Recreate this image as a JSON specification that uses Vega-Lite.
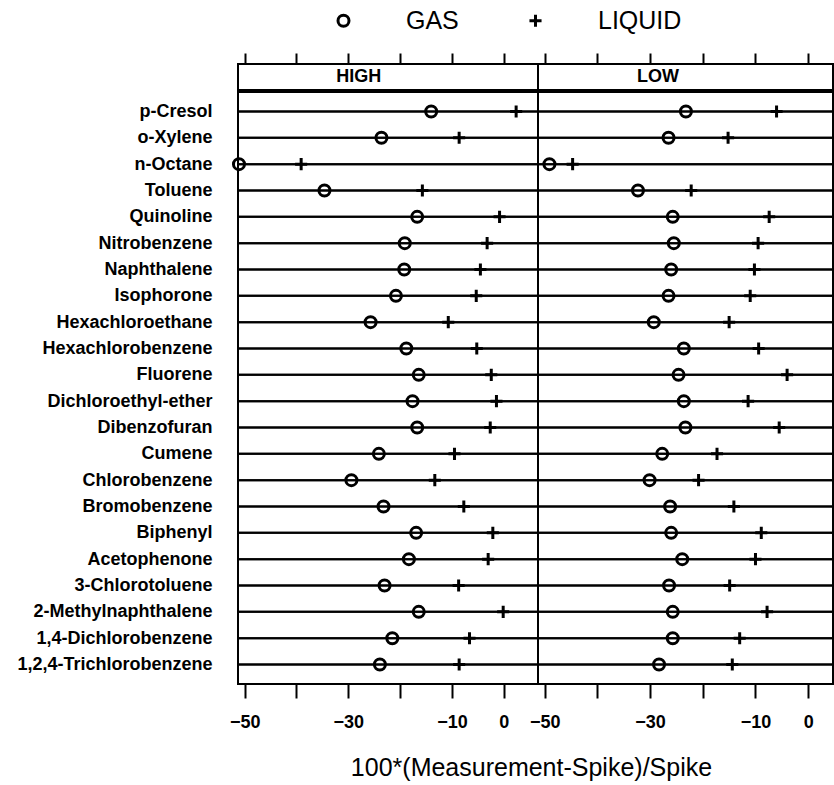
{
  "$schema": "https://vega.github.io/schema/vega-lite/v6.json",
  "autosize": {"type": "pad"},
  "padding": {"left": 15, "top": 8, "right": 0, "bottom": 0},
  "background": "white",
  "config": {
    "font": "Liberation Sans",
    "view": {"stroke": "black", "strokeWidth": 2},
    "concat": {"spacing": 0}
  },
  "data": {
    "values": [
      {"compound": "p-Cresol", "level": "HIGH", "GAS": -14.0, "LIQUID": 2.4},
      {"compound": "o-Xylene", "level": "HIGH", "GAS": -23.6, "LIQUID": -8.6},
      {"compound": "n-Octane", "level": "HIGH", "GAS": -51.1, "LIQUID": -39.1},
      {"compound": "Toluene", "level": "HIGH", "GAS": -34.6, "LIQUID": -15.7},
      {"compound": "Quinoline", "level": "HIGH", "GAS": -16.7, "LIQUID": -0.8},
      {"compound": "Nitrobenzene", "level": "HIGH", "GAS": -19.1, "LIQUID": -3.2},
      {"compound": "Naphthalene", "level": "HIGH", "GAS": -19.2, "LIQUID": -4.5},
      {"compound": "Isophorone", "level": "HIGH", "GAS": -20.8, "LIQUID": -5.3},
      {"compound": "Hexachloroethane", "level": "HIGH", "GAS": -25.7, "LIQUID": -10.7},
      {"compound": "Hexachlorobenzene", "level": "HIGH", "GAS": -18.8, "LIQUID": -5.2},
      {"compound": "Fluorene", "level": "HIGH", "GAS": -16.4, "LIQUID": -2.4},
      {"compound": "Dichloroethyl-ether", "level": "HIGH", "GAS": -17.6, "LIQUID": -1.4},
      {"compound": "Dibenzofuran", "level": "HIGH", "GAS": -16.7, "LIQUID": -2.6},
      {"compound": "Cumene", "level": "HIGH", "GAS": -24.1, "LIQUID": -9.5},
      {"compound": "Chlorobenzene", "level": "HIGH", "GAS": -29.4, "LIQUID": -13.3},
      {"compound": "Bromobenzene", "level": "HIGH", "GAS": -23.2, "LIQUID": -7.7},
      {"compound": "Biphenyl", "level": "HIGH", "GAS": -16.9, "LIQUID": -2.1},
      {"compound": "Acetophenone", "level": "HIGH", "GAS": -18.3, "LIQUID": -3.0},
      {"compound": "3-Chlorotoluene", "level": "HIGH", "GAS": -23.0, "LIQUID": -8.7},
      {"compound": "2-Methylnaphthalene", "level": "HIGH", "GAS": -16.4, "LIQUID": -0.1},
      {"compound": "1,4-Dichlorobenzene", "level": "HIGH", "GAS": -21.5, "LIQUID": -6.6},
      {"compound": "1,2,4-Trichlorobenzene", "level": "HIGH", "GAS": -23.9, "LIQUID": -8.6},
      {"compound": "p-Cresol", "level": "LOW", "GAS": -23.2, "LIQUID": -6.0},
      {"compound": "o-Xylene", "level": "LOW", "GAS": -26.5, "LIQUID": -15.2},
      {"compound": "n-Octane", "level": "LOW", "GAS": -49.1, "LIQUID": -44.7},
      {"compound": "Toluene", "level": "LOW", "GAS": -32.3, "LIQUID": -22.2},
      {"compound": "Quinoline", "level": "LOW", "GAS": -25.7, "LIQUID": -7.4},
      {"compound": "Nitrobenzene", "level": "LOW", "GAS": -25.5, "LIQUID": -9.5},
      {"compound": "Naphthalene", "level": "LOW", "GAS": -26.0, "LIQUID": -10.2},
      {"compound": "Isophorone", "level": "LOW", "GAS": -26.5, "LIQUID": -11.0},
      {"compound": "Hexachloroethane", "level": "LOW", "GAS": -29.3, "LIQUID": -15.0},
      {"compound": "Hexachlorobenzene", "level": "LOW", "GAS": -23.6, "LIQUID": -9.4},
      {"compound": "Fluorene", "level": "LOW", "GAS": -24.6, "LIQUID": -4.0},
      {"compound": "Dichloroethyl-ether", "level": "LOW", "GAS": -23.6, "LIQUID": -11.4},
      {"compound": "Dibenzofuran", "level": "LOW", "GAS": -23.3, "LIQUID": -5.5},
      {"compound": "Cumene", "level": "LOW", "GAS": -27.7, "LIQUID": -17.3},
      {"compound": "Chlorobenzene", "level": "LOW", "GAS": -30.1, "LIQUID": -20.8},
      {"compound": "Bromobenzene", "level": "LOW", "GAS": -26.2, "LIQUID": -14.1},
      {"compound": "Biphenyl", "level": "LOW", "GAS": -26.0, "LIQUID": -8.9},
      {"compound": "Acetophenone", "level": "LOW", "GAS": -23.9, "LIQUID": -10.0},
      {"compound": "3-Chlorotoluene", "level": "LOW", "GAS": -26.4, "LIQUID": -14.9},
      {"compound": "2-Methylnaphthalene", "level": "LOW", "GAS": -25.7, "LIQUID": -7.8},
      {"compound": "1,4-Dichlorobenzene", "level": "LOW", "GAS": -25.7, "LIQUID": -13.0},
      {"compound": "1,2,4-Trichlorobenzene", "level": "LOW", "GAS": -28.3, "LIQUID": -14.4}
    ]
  },
  "transform": [{"fold": ["GAS", "LIQUID"], "as": ["phase", "value"]}],
  "spacing": 0,
  "resolve": {"scale": {"x": "independent", "shape": "shared"}, "legend": {"shape": "shared"}},
  "vconcat": [
    {
      "spacing": 0,
      "bounds": "flush",
      "resolve": {"scale": {"x": "independent"}},
      "hconcat": [
        {
          "width": 300,
          "height": 26,
          "data": {"values": [{"level": "HIGH"}]},
          "transform": [],
          "mark": {"type": "text", "fontWeight": "bold", "fontSize": 18, "color": "black", "align": "center", "baseline": "middle"},
          "encoding": {
            "x": {"datum": -28, "type": "quantitative", "scale": {"domain": [-51.29, 6.62], "nice": false, "zero": false},
                  "axis": {"orient": "top", "values": [-50, -40, -30, -20, -10, 0], "labels": false, "domain": false, "grid": false, "tickSize": 11, "tickWidth": 2, "tickColor": "black", "title": null}},
            "text": {"field": "level"}
          }
        },
        {
          "width": 295,
          "height": 26,
          "data": {"values": [{"level": "LOW"}]},
          "transform": [],
          "mark": {"type": "text", "fontWeight": "bold", "fontSize": 18, "color": "black", "align": "center", "baseline": "middle"},
          "encoding": {
            "x": {"datum": -28.5, "type": "quantitative", "scale": {"domain": [-51.27, 4.71], "nice": false, "zero": false},
                  "axis": {"orient": "top", "values": [-50, -40, -30, -20, -10, 0], "labels": false, "domain": false, "grid": false, "tickSize": 11, "tickWidth": 2, "tickColor": "black", "title": null}},
            "text": {"field": "level"}
          }
        }
      ]
    },
    {
      "spacing": 0,
      "bounds": "flush",
      "resolve": {"scale": {"x": "independent"}},
      "hconcat": [
        {
          "width": 300,
          "height": 592,
          "transform": [{"filter": "datum.level == 'HIGH'"}],
          "encoding": {
            "y": {"field": "compound", "type": "nominal", "sort": null, "scale": {"type": "point", "padding": 0.74},
                  "axis": {"title": null, "ticks": false, "domain": false, "grid": false, "labelPadding": 26, "labelLimit": 0, "labelFontSize": 18, "labelFontWeight": "bold", "labelColor": "black", "labelFont": "Liberation Sans"}}
          },
          "layer": [
            {"mark": {"type": "rule", "color": "black", "strokeWidth": 2}, "encoding": {}},
            {
              "mark": {"type": "point", "filled": false, "stroke": "black", "strokeWidth": 3, "size": 121, "opacity": 1},
              "encoding": {
                "x": {"field": "value", "type": "quantitative", "scale": {"domain": [-51.29, 6.62], "nice": false, "zero": false},
                      "axis": {"values": [-50, -40, -30, -20, -10, 0], "labelExpr": "datum.value == -40 || datum.value == -20 ? '' : datum.label", "labelFlush": false, "grid": false, "domain": false, "tickSize": 14, "tickWidth": 2, "tickColor": "black", "labelFontSize": 18, "labelFontWeight": "bold", "labelColor": "black", "labelPadding": 15, "title": null}},
                "shape": {"field": "phase", "type": "nominal",
                          "scale": {"domain": ["GAS", "LIQUID"], "range": ["circle", "M-1.1,0H1.1M0,-1.1V1.1"]},
                          "legend": {"title": null, "orient": "none", "legendX": 93, "legendY": -56, "direction": "horizontal", "labelFontSize": 25, "labelFont": "Liberation Sans", "labelColor": "black", "symbolStrokeColor": "black", "symbolStrokeWidth": 3, "symbolFillColor": "transparent", "symbolSize": 121, "labelOffset": 50, "columnPadding": 64}}
              }
            }
          ]
        },
        {
          "width": 295,
          "height": 592,
          "transform": [{"filter": "datum.level == 'LOW'"}],
          "encoding": {
            "y": {"field": "compound", "type": "nominal", "sort": null, "scale": {"type": "point", "padding": 0.74}, "axis": null}
          },
          "layer": [
            {"mark": {"type": "rule", "color": "black", "strokeWidth": 2}, "encoding": {}},
            {
              "mark": {"type": "point", "filled": false, "stroke": "black", "strokeWidth": 3, "size": 121, "opacity": 1},
              "encoding": {
                "x": {"field": "value", "type": "quantitative", "scale": {"domain": [-51.27, 4.71], "nice": false, "zero": false},
                      "axis": {"values": [-50, -40, -30, -20, -10, 0], "labelExpr": "datum.value == -40 || datum.value == -20 ? '' : datum.label", "labelFlush": false, "grid": false, "domain": false, "tickSize": 14, "tickWidth": 2, "tickColor": "black", "labelFontSize": 18, "labelFontWeight": "bold", "labelColor": "black", "labelPadding": 15,
                               "title": "100*(Measurement-Spike)/Spike", "titleFontSize": 25, "titleFontWeight": "normal", "titleColor": "black", "titlePadding": 24, "titleX": -7, "titleAlign": "center", "titleFont": "Liberation Sans"}},
                "shape": {"field": "phase", "type": "nominal",
                          "scale": {"domain": ["GAS", "LIQUID"], "range": ["circle", "M-1.1,0H1.1M0,-1.1V1.1"]}}
              }
            }
          ]
        }
      ]
    }
  ]
}
